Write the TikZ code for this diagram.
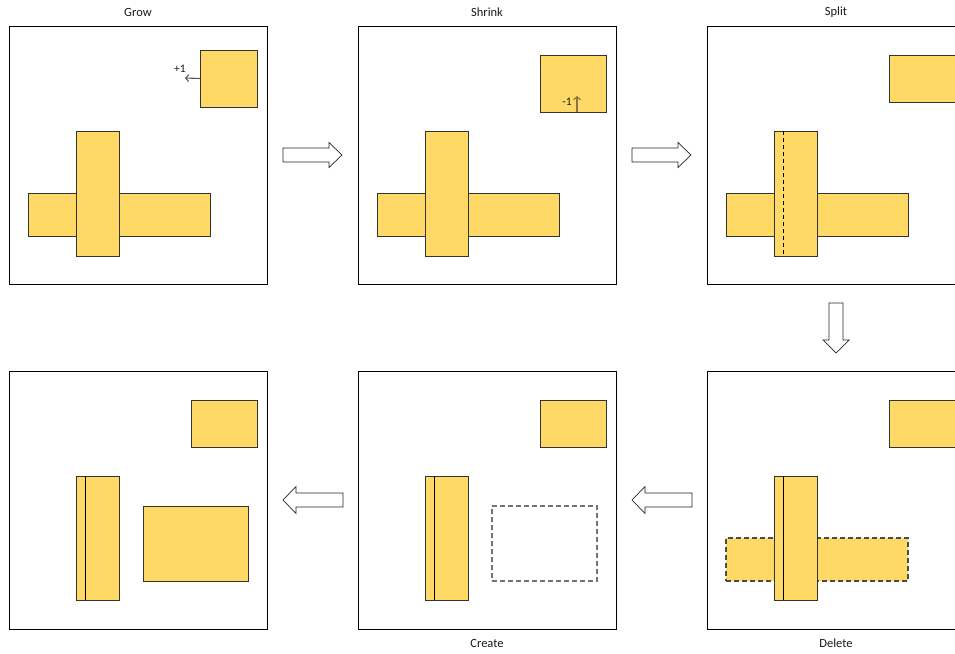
\documentclass[tikz,border=0pt]{standalone}
\usepackage{fontspec}
\setmainfont{Carlito}
\usetikzlibrary{arrows.meta}
\definecolor{blockfill}{HTML}{FFD966}
\definecolor{shrinkarrow}{HTML}{8A7440}
\begin{document}
\begin{tikzpicture}[x=1pt,y=-1pt,
  panel/.style={draw=black, line width=0.9pt, fill=white, inner sep=0pt, outer sep=0pt, anchor=north west, minimum width=258pt, minimum height=258pt},
  block/.style={draw=black!80, line width=0.8pt, fill=blockfill, inner sep=0pt, outer sep=0pt, anchor=north west},
  ghost/.style={draw=black!55, line width=1.1pt, dash pattern=on 5pt off 3pt, inner sep=0pt, outer sep=0pt, anchor=north west},
  ghostfill/.style={draw=black!70, line width=1.1pt, dash pattern=on 5pt off 3pt, fill=blockfill, inner sep=0pt, outer sep=0pt, anchor=north west},
  blockarrow/.style={draw=black!85, line width=0.7pt, fill=white, line join=miter},
  title/.style={font=\fontsize{12.5}{14}\selectfont, text=black!90},
  small/.style={font=\fontsize{11.5}{13}\selectfont, text=black!90, inner sep=0pt},
  step-arrow/.style={draw=black!65, line width=1.1pt, -{Straight Barb[length=3pt,width=7pt]}}
]
\useasboundingbox (0,0) rectangle (955,653);
\clip (0,0) rectangle (955,653);

% ---------- panels ----------
\node[panel] (p1) at (9,26) {};
\node[panel] (p2) at (358,26) {};
\node[panel] (p3) at (707,26) {};
\node[panel] (p4) at (9,371) {};
\node[panel] (p5) at (358,371) {};
\node[panel] (p6) at (707,371) {};

% ---------- titles ----------
\node[title] (t1) at (138,12) {Grow};
\node[title] (t2) at (487,12) {Shrink};
\node[title] (t3) at (836,12) {Split};
\node[title] (t5) at (487,643) {Create};
\node[title] (t6) at (836,643) {Delete};

% ---------- panel 1: Grow ----------
\node[block, minimum width=182pt, minimum height=43pt] (g-h) at (28,193) {};
\node[block, minimum width=43pt, minimum height=125pt] (g-v) at (76,131) {};
\node[block, minimum width=57pt, minimum height=57pt] (g-sq) at (200,50) {};
\coordinate (g-end) at (185,78);
\draw[step-arrow] (g-sq.west) -- (g-end);
\node[small] (g-lbl) at (180,69) {+1};

% ---------- panel 2: Shrink ----------
\node[block, minimum width=182pt, minimum height=43pt] (s-h) at (377,193) {};
\node[block, minimum width=43pt, minimum height=125pt] (s-v) at (425,131) {};
\node[block, minimum width=66pt, minimum height=57pt] (s-sq) at (540,55) {};
\coordinate (s-start) at (577,112);
\coordinate (s-end) at (577,96);
\draw[step-arrow, draw=shrinkarrow] (s-start) -- (s-end);
\node[small] (s-lbl) at (567,102) {-1};

% ---------- panel 3: Split ----------
\node[block, minimum width=182pt, minimum height=43pt] (p-h) at (726,193) {};
\node[block, minimum width=43pt, minimum height=125pt] (p-v) at (774,131) {};
\draw[black, line width=0.8pt, dash pattern=on 4pt off 3pt] (783,131) -- (783,256);
\node[block, minimum width=80pt, minimum height=47pt] (p-sq) at (889,55) {};

% ---------- panel 6: Delete ----------
\node[ghostfill, minimum width=182pt, minimum height=43pt] (d-h) at (726,538) {};
\node[block, minimum width=43pt, minimum height=124pt] (d-v) at (774,476) {};
\draw[black, line width=0.8pt] (783,476) -- (783,600);
\node[block, minimum width=80pt, minimum height=47pt] (d-sq) at (889,400) {};

% ---------- panel 5: Create ----------
\node[block, minimum width=43pt, minimum height=124pt] (c-v) at (425,476) {};
\draw[black, line width=0.8pt] (434,476) -- (434,600);
\node[block, minimum width=66pt, minimum height=47pt] (c-sq) at (540,400) {};
\node[ghost, minimum width=105pt, minimum height=75pt] (c-new) at (492,506) {};

% ---------- panel 4: result ----------
\node[block, minimum width=43pt, minimum height=124pt] (r-v) at (76,476) {};
\draw[black, line width=0.8pt] (85,476) -- (85,600);
\node[block, minimum width=66pt, minimum height=47pt] (r-sq) at (191,400) {};
\node[block, minimum width=105pt, minimum height=75pt] (r-new) at (143,506) {};

% ---------- block arrows ----------
% right arrows (top row)
\draw[blockarrow] (283,148) -- (329,148) -- (329,142.5) -- (342,155) -- (329,167.5) -- (329,162) -- (283,162) -- cycle;
\draw[blockarrow] (632,148) -- (678,148) -- (678,142.5) -- (691,155) -- (678,167.5) -- (678,162) -- (632,162) -- cycle;
% down arrow
\draw[blockarrow] (829,303) -- (843,303) -- (843,340) -- (849,340) -- (836,353) -- (823,340) -- (829,340) -- cycle;
% left arrows (bottom row)
\draw[blockarrow] (343,493) -- (296,493) -- (296,486.5) -- (283,500) -- (296,513.5) -- (296,507) -- (343,507) -- cycle;
\draw[blockarrow] (692,493) -- (645,493) -- (645,486.5) -- (632,500) -- (645,513.5) -- (645,507) -- (692,507) -- cycle;
\end{tikzpicture}
\end{document}
